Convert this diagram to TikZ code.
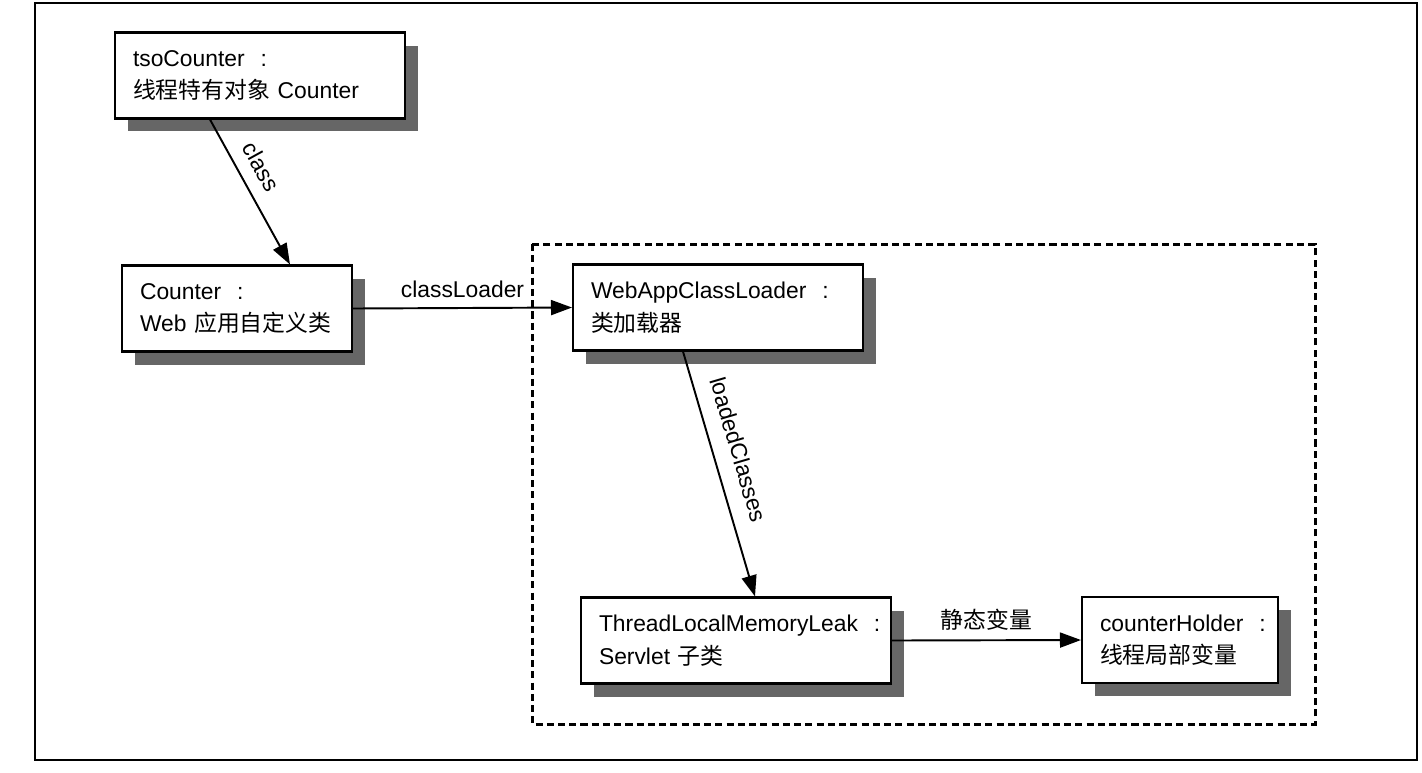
\documentclass[tikz,border=0pt]{standalone}
\usepackage{fontspec}
\setmainfont{Liberation Sans}
\newfontfamily\cjk{Noto Sans CJK SC}
\usetikzlibrary{arrows.meta,shadows}
\newcommand{\ocolon}{\nobreak\hspace{0.7em}\nobreak:}
\tikzset{
	objbox/.style={draw, line width=1.2pt, fill=white, align=left, inner xsep=0.36cm, minimum height=1.72cm,
		drop shadow={shadow xshift=0.26cm, shadow yshift=-0.26cm, fill=black!60, opacity=1}},
	link/.style={line width=1.1pt, -{Triangle[length=0.42cm,width=0.3cm]}},
}
\begin{document}
\begin{tikzpicture}[x=0.02cm, y=-0.02cm, font=\fontsize{13}{18.5}\selectfont]
	\useasboundingbox (0,0) rectangle (1422,772);
	\draw[line width=0.9pt] (35,3) rectangle (1417,760);
	\draw[line width=1.7pt, dash pattern=on 4pt off 2.4pt] (532,244) rectangle (1315,724);
	\node[objbox, text width=5.08cm] (tso) at (260,75.5) {tsoCounter\ocolon\\{\cjk 线程特有对象} Counter};
	\node[objbox, text width=3.88cm] (counter) at (237,308.5) {Counter\ocolon\\Web {\cjk 应用自定义类}};
	\node[objbox, text width=5.08cm] (loader) at (718,307.5) {WebAppClassLoader\ocolon\\{\cjk 类加载器}};
	\node[objbox, text width=5.48cm] (leak) at (736,640.5) {ThreadLocalMemoryLeak\ocolon\\Servlet {\cjk 子类}};
	\node[objbox, text width=3.2cm] (holder) at (1180,640) {counterHolder\ocolon\\{\cjk 线程局部变量}};
	\draw[link] ([xshift=-1cm]tso.south) to node[pos=0.4, sloped, above=4pt] {class} ([xshift=1.06cm]counter.north);
	\draw[link] (counter.east) to node[above=2pt] {classLoader} (loader.west);
	\draw[link] ([xshift=-0.7cm]loader.south) to node[pos=0.43, sloped, above=6pt] {loadedClasses} ([xshift=0.38cm]leak.north);
	\draw[link] (leak.east) to node[above=2pt] {\cjk 静态变量} (holder.west);
\end{tikzpicture}
\end{document}
